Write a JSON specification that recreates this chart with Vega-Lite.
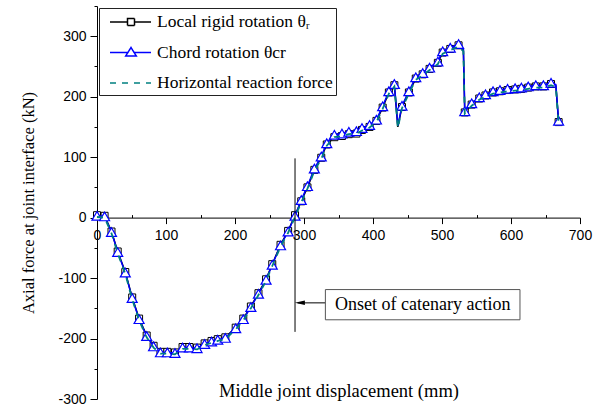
{
  "$schema": "https://vega.github.io/schema/vega-lite/v6.json",
  "width": 483,
  "height": 393,
  "autosize": {"type": "none"},
  "padding": {"left": 97, "top": 6, "right": 14, "bottom": 10},
  "config": {"view": {"stroke": null}, "font": "Liberation Serif"},
  "datasets": {
    "curves": [
      {"s":"C","x":0,"y":3},{"s":"C","x":11,"y":2},{"s":"C","x":21,"y":-24},{"s":"C","x":30,"y":-57},{"s":"C","x":41,"y":-91},{"s":"C","x":51,"y":-133},{"s":"C","x":61,"y":-168},{"s":"C","x":72,"y":-196},{"s":"C","x":82,"y":-213},{"s":"C","x":92,"y":-223},{"s":"C","x":102,"y":-223},{"s":"C","x":113,"y":-224},{"s":"C","x":124,"y":-215},{"s":"C","x":134,"y":-215},{"s":"C","x":145,"y":-216},{"s":"C","x":156,"y":-209},{"s":"C","x":166,"y":-205},{"s":"C","x":175,"y":-202},{"s":"C","x":186,"y":-199},{"s":"C","x":201,"y":-183},{"s":"C","x":212,"y":-168},{"s":"C","x":223,"y":-148},{"s":"C","x":234,"y":-126},{"s":"C","x":245,"y":-103},{"s":"C","x":254,"y":-78},{"s":"C","x":266,"y":-46},{"s":"C","x":277,"y":-23},{"s":"C","x":287,"y":3},{"s":"C","x":296,"y":29},{"s":"C","x":305,"y":52},{"s":"C","x":315,"y":81},{"s":"C","x":325,"y":101},{"s":"C","x":333,"y":123},{"s":"C","x":344,"y":137},{"s":"C","x":355,"y":139},{"s":"C","x":365,"y":142},{"s":"C","x":376,"y":143},{"s":"C","x":384,"y":148},{"s":"C","x":395,"y":153},{"s":"C","x":405,"y":162},{"s":"C","x":414,"y":184},{"s":"C","x":423,"y":209},{"s":"C","x":431,"y":221},{"s":"C","x":436,"y":152},{"s":"C","x":442,"y":185},{"s":"C","x":452,"y":209},{"s":"C","x":462,"y":232},{"s":"C","x":472,"y":239},{"s":"C","x":482,"y":248},{"s":"C","x":494,"y":258},{"s":"C","x":501,"y":275},{"s":"C","x":512,"y":281},{"s":"C","x":524,"y":287},{"s":"C","x":531,"y":279},{"s":"C","x":533,"y":176},{"s":"C","x":543,"y":189},{"s":"C","x":554,"y":199},{"s":"C","x":563,"y":204},{"s":"C","x":574,"y":209},{"s":"C","x":584,"y":211},{"s":"C","x":595,"y":213},{"s":"C","x":606,"y":214},{"s":"C","x":615,"y":215},{"s":"C","x":625,"y":217},{"s":"C","x":636,"y":219},{"s":"C","x":647,"y":219},{"s":"C","x":658,"y":223},{"s":"C","x":665,"y":220},{"s":"C","x":669,"y":160},
      {"s":"L","x":0,"y":4},{"s":"L","x":11,"y":3},{"s":"L","x":21,"y":-23},{"s":"L","x":30,"y":-56},{"s":"L","x":41,"y":-90},{"s":"L","x":51,"y":-132},{"s":"L","x":61,"y":-167},{"s":"L","x":72,"y":-195},{"s":"L","x":82,"y":-212},{"s":"L","x":92,"y":-222},{"s":"L","x":102,"y":-222},{"s":"L","x":113,"y":-223},{"s":"L","x":124,"y":-214},{"s":"L","x":134,"y":-214},{"s":"L","x":145,"y":-215},{"s":"L","x":156,"y":-208},{"s":"L","x":166,"y":-204},{"s":"L","x":175,"y":-201},{"s":"L","x":186,"y":-198},{"s":"L","x":201,"y":-182},{"s":"L","x":212,"y":-167},{"s":"L","x":223,"y":-147},{"s":"L","x":234,"y":-125},{"s":"L","x":245,"y":-102},{"s":"L","x":254,"y":-77},{"s":"L","x":266,"y":-45},{"s":"L","x":277,"y":-22},{"s":"L","x":287,"y":4},{"s":"L","x":296,"y":27},{"s":"L","x":305,"y":50},{"s":"L","x":315,"y":79},{"s":"L","x":325,"y":99},{"s":"L","x":333,"y":121},{"s":"L","x":344,"y":133},{"s":"L","x":355,"y":135},{"s":"L","x":365,"y":138},{"s":"L","x":376,"y":139},{"s":"L","x":384,"y":145},{"s":"L","x":395,"y":150},{"s":"L","x":405,"y":160},{"s":"L","x":414,"y":182},{"s":"L","x":423,"y":207},{"s":"L","x":431,"y":219},{"s":"L","x":436,"y":150},{"s":"L","x":442,"y":183},{"s":"L","x":452,"y":207},{"s":"L","x":462,"y":230},{"s":"L","x":472,"y":237},{"s":"L","x":482,"y":246},{"s":"L","x":494,"y":256},{"s":"L","x":501,"y":273},{"s":"L","x":512,"y":279},{"s":"L","x":524,"y":285},{"s":"L","x":531,"y":277},{"s":"L","x":533,"y":174},{"s":"L","x":543,"y":187},{"s":"L","x":554,"y":197},{"s":"L","x":563,"y":202},{"s":"L","x":574,"y":207},{"s":"L","x":584,"y":209},{"s":"L","x":595,"y":211},{"s":"L","x":606,"y":212},{"s":"L","x":615,"y":213},{"s":"L","x":625,"y":215},{"s":"L","x":636,"y":217},{"s":"L","x":647,"y":217},{"s":"L","x":658,"y":221},{"s":"L","x":665,"y":218},{"s":"L","x":669,"y":158},
      {"s":"H","x":0,"y":1},{"s":"H","x":11,"y":0},{"s":"H","x":21,"y":-26},{"s":"H","x":30,"y":-59},{"s":"H","x":41,"y":-93},{"s":"H","x":51,"y":-135},{"s":"H","x":61,"y":-170},{"s":"H","x":72,"y":-198},{"s":"H","x":82,"y":-215},{"s":"H","x":92,"y":-225},{"s":"H","x":102,"y":-225},{"s":"H","x":113,"y":-226},{"s":"H","x":124,"y":-217},{"s":"H","x":134,"y":-217},{"s":"H","x":145,"y":-218},{"s":"H","x":156,"y":-211},{"s":"H","x":166,"y":-207},{"s":"H","x":175,"y":-204},{"s":"H","x":186,"y":-201},{"s":"H","x":201,"y":-185},{"s":"H","x":212,"y":-170},{"s":"H","x":223,"y":-150},{"s":"H","x":234,"y":-128},{"s":"H","x":245,"y":-105},{"s":"H","x":254,"y":-80},{"s":"H","x":266,"y":-48},{"s":"H","x":277,"y":-25},{"s":"H","x":287,"y":1},{"s":"H","x":296,"y":25},{"s":"H","x":305,"y":48},{"s":"H","x":315,"y":77},{"s":"H","x":325,"y":97},{"s":"H","x":333,"y":119},{"s":"H","x":344,"y":133},{"s":"H","x":355,"y":135},{"s":"H","x":365,"y":138},{"s":"H","x":376,"y":139},{"s":"H","x":384,"y":144},{"s":"H","x":395,"y":149},{"s":"H","x":405,"y":158},{"s":"H","x":414,"y":180},{"s":"H","x":423,"y":205},{"s":"H","x":431,"y":217},{"s":"H","x":436,"y":148},{"s":"H","x":442,"y":181},{"s":"H","x":452,"y":205},{"s":"H","x":462,"y":228},{"s":"H","x":472,"y":235},{"s":"H","x":482,"y":244},{"s":"H","x":494,"y":254},{"s":"H","x":501,"y":271},{"s":"H","x":512,"y":277},{"s":"H","x":524,"y":283},{"s":"H","x":531,"y":275},{"s":"H","x":533,"y":172},{"s":"H","x":543,"y":185},{"s":"H","x":554,"y":195},{"s":"H","x":563,"y":200},{"s":"H","x":574,"y":205},{"s":"H","x":584,"y":207},{"s":"H","x":595,"y":209},{"s":"H","x":606,"y":210},{"s":"H","x":615,"y":211},{"s":"H","x":625,"y":213},{"s":"H","x":636,"y":215},{"s":"H","x":647,"y":215},{"s":"H","x":658,"y":219},{"s":"H","x":665,"y":216},{"s":"H","x":669,"y":156}
    ],
    "onset": [{"x": 287, "y": 98, "y2": -189}],
    "arrow": [{"x": 291, "x2": 331, "y": -141}],
    "head": [{"x": 294, "y": -141}],
    "box": [{"x": 331, "x2": 613, "y": -119, "y2": -169}],
    "note": [{"x": 472, "y": -144, "label": "Onset of catenary action"}]
  },
  "data": {"name": "curves"},
  "encoding": {
    "x": {
      "field": "x", "type": "quantitative",
      "scale": {"domain": [0, 700], "nice": false, "zero": false},
      "axis": {
        "title": "Middle joint displacement (mm)",
        "values": [0,50,100,150,200,250,300,350,400,450,500,550,600,650,700],
        "labelExpr": "datum.value % 100 === 0 ? toString(datum.value) : ''",
        "tickSize": {"condition": {"test": "datum.value % 100 === 0", "value": 6}, "value": -3},
        "offset": -181.4,
        "grid": false,
        "domainColor": "black", "tickColor": "black", "labelColor": "black",
        "labelFont": "Liberation Sans", "labelFontSize": 14, "labelPadding": 5,
        "labelFlush": false, "labelOverlap": false,
        "titleFont": "Liberation Serif", "titleFontSize": 18.5, "titleFontWeight": "normal", "titleColor": "black",
        "titleY": 173, "titleBaseline": "middle"
      }
    },
    "y": {
      "field": "y", "type": "quantitative",
      "scale": {"domain": [-300, 350], "nice": false, "zero": false},
      "axis": {
        "title": "Axial force at joint interface (kN)",
        "values": [-300,-250,-200,-150,-100,-50,0,50,100,150,200,250,300,350],
        "labelExpr": "datum.value % 100 === 0 ? toString(datum.value) : ''",
        "tickSize": {"condition": {"test": "datum.value % 100 === 0", "value": 7}, "value": 3},
        "grid": false,
        "domainColor": "black", "tickColor": "black", "labelColor": "black",
        "labelFont": "Liberation Sans", "labelFontSize": 14, "labelPadding": 4,
        "labelOverlap": false,
        "titleFont": "Liberation Serif", "titleFontSize": 16.5, "titleFontWeight": "normal", "titleColor": "black",
        "titlePadding": 21
      }
    }
  },
  "layer": [
    {
      "transform": [{"filter": "datum.s === 'L'"}],
      "mark": {"type": "line", "strokeWidth": 1.5},
      "encoding": {
        "color": {
          "field": "s", "type": "nominal",
          "scale": {"domain": ["L", "C", "H"], "range": ["black", "#0000ff", "#008080"]},
          "legend": {
            "title": null,
            "orient": "none", "legendX": 2, "legendY": 2,
            "labelExpr": "datum.value === 'L' ? 'Local rigid rotation θᵣ' : datum.value === 'C' ? 'Chord rotation θcr' : 'Horizontal reaction force'",
            "labelFont": "Liberation Serif", "labelFontSize": 17.5, "labelColor": "black", "labelLimit": 400,
            "symbolSize": 400, "symbolStrokeWidth": 1.5,
            "labelOffset": 33, "padding": 3, "rowPadding": 10.5,
            "strokeColor": "#222", "fillColor": "white",
            "encode": {
              "symbols": {
                "update": {
                  "shape": {"signal": "datum.value === 'L' ? 'M-0.3,0H1.45M2.15,0H3.8M1.45,-0.35H2.15V0.35H1.45Z' : datum.value === 'C' ? 'M-0.3,0H1.49M2.11,0H3.8M1.8,-0.5L2.33,0.35H1.27Z' : 'M-0.3,0H3.8'"},
                  "fill": {"value": "white"},
                  "strokeDash": {"signal": "datum.value === 'H' ? [6, 6] : [1, 0]"}
                }
              }
            }
          }
        }
      }
    },
    {
      "transform": [{"filter": "datum.s === 'L' && datum.x !== 436 && datum.x !== 531 && datum.x !== 665"}],
      "mark": {"type": "point", "shape": "square", "size": 49, "filled": true, "fill": "white", "stroke": "black", "strokeWidth": 1, "opacity": 1}
    },
    {
      "transform": [{"filter": "datum.s === 'C'"}],
      "mark": {"type": "line", "strokeWidth": 1.5},
      "encoding": {"color": {"field": "s", "type": "nominal"}}
    },
    {
      "transform": [{"filter": "datum.s === 'C' && datum.x !== 436 && datum.x !== 531 && datum.x !== 665"}],
      "mark": {"type": "point", "shape": "triangle-up", "size": 100, "filled": true, "fill": "white", "stroke": "#0000ff", "strokeWidth": 1.2, "opacity": 1}
    },
    {
      "transform": [{"filter": "datum.s === 'H'"}],
      "mark": {"type": "line", "strokeWidth": 1.8, "strokeDash": [6, 6]},
      "encoding": {"color": {"field": "s", "type": "nominal"}}
    },
    {
      "data": {"name": "onset"},
      "mark": {"type": "rule", "color": "black", "strokeWidth": 1},
      "encoding": {"y2": {"field": "y2"}}
    },
    {
      "data": {"name": "arrow"},
      "mark": {"type": "rule", "color": "black", "strokeWidth": 1},
      "encoding": {"x2": {"field": "x2"}}
    },
    {
      "data": {"name": "head"},
      "mark": {"type": "point", "shape": "M-1,0L1,-0.45L1,0.45Z", "size": 100, "filled": true, "color": "black", "opacity": 1}
    },
    {
      "data": {"name": "box"},
      "mark": {"type": "rect", "fill": "white", "stroke": "#555", "strokeWidth": 1},
      "encoding": {"x2": {"field": "x2"}, "y2": {"field": "y2"}}
    },
    {
      "data": {"name": "note"},
      "mark": {"type": "text", "font": "Liberation Serif", "fontSize": 18, "color": "black", "align": "center", "baseline": "middle"},
      "encoding": {"text": {"field": "label"}}
    }
  ]
}
